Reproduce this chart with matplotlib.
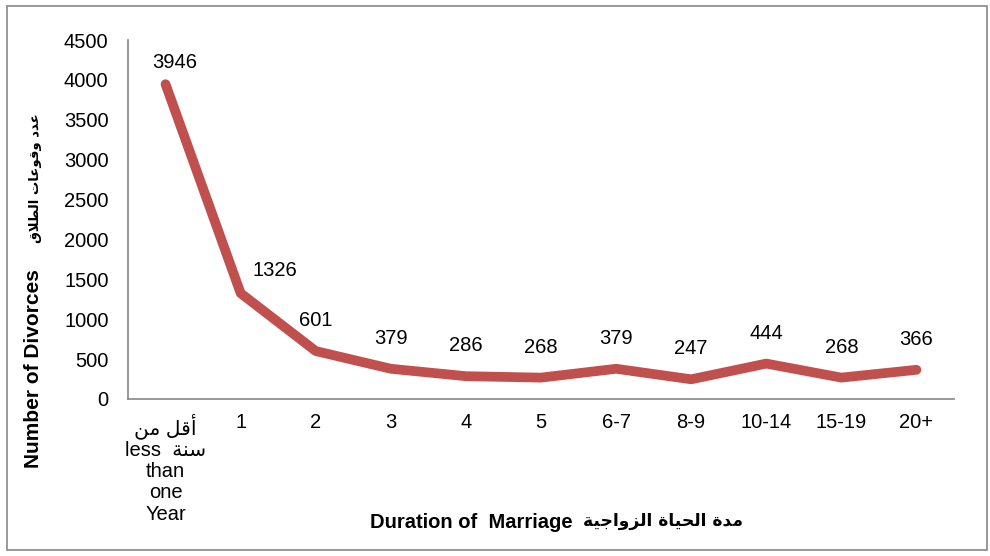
import matplotlib
matplotlib.use('Agg')
import matplotlib.pyplot as plt
import matplotlib.patches as patches

plt.rcParams['font.family'] = ['Liberation Sans', 'DejaVu Sans']

# arabic letter forms: isolated, final, initial, medial
forms = {
    'أ': ('\uFE83', '\uFE84', None, None),
    'ا': ('\uFE8D', '\uFE8E', None, None),
    'ب': ('\uFE8F', '\uFE90', '\uFE91', '\uFE92'),
    'ة': ('\uFE93', '\uFE94', None, None),
    'ت': ('\uFE95', '\uFE96', '\uFE97', '\uFE98'),
    'ج': ('\uFE9D', '\uFE9E', '\uFE9F', '\uFEA0'),
    'ح': ('\uFEA1', '\uFEA2', '\uFEA3', '\uFEA4'),
    'د': ('\uFEA9', '\uFEAA', None, None),
    'ز': ('\uFEAF', '\uFEB0', None, None),
    'س': ('\uFEB1', '\uFEB2', '\uFEB3', '\uFEB4'),
    'ط': ('\uFEC1', '\uFEC2', '\uFEC3', '\uFEC4'),
    'ع': ('\uFEC9', '\uFECA', '\uFECB', '\uFECC'),
    'ق': ('\uFED5', '\uFED6', '\uFED7', '\uFED8'),
    'ل': ('\uFEDD', '\uFEDE', '\uFEDF', '\uFEE0'),
    'م': ('\uFEE1', '\uFEE2', '\uFEE3', '\uFEE4'),
    'ن': ('\uFEE5', '\uFEE6', '\uFEE7', '\uFEE8'),
    'و': ('\uFEED', '\uFEEE', None, None),
    'ي': ('\uFEF1', '\uFEF2', '\uFEF3', '\uFEF4'),
}
lam_alef = {'ا': ('\uFEFB', '\uFEFC'), 'أ': ('\uFEF7', '\uFEF8')}


def shape(word):
    units = []
    i = 0
    while i < len(word):
        if word[i] == 'ل' and i + 1 < len(word) and word[i + 1] in lam_alef:
            units.append(('LA', word[i + 1]))
            i += 2
        else:
            units.append(('C', word[i]))
            i += 1
    out = []
    for k, (kind, c) in enumerate(units):
        prev_joins = (k > 0 and units[k - 1][0] == 'C' and units[k - 1][1] in forms
                      and forms[units[k - 1][1]][2] is not None)
        if kind == 'LA':
            out.append(lam_alef[c][1 if prev_joins else 0])
            continue
        f = forms.get(c)
        if f is None:
            out.append(c)
            continue
        next_ok = (k + 1 < len(units) and f[2] is not None
                   and (units[k + 1][0] == 'LA' or units[k + 1][1] in forms))
        if prev_joins and next_ok:
            out.append(f[3])
        elif prev_joins:
            out.append(f[1])
        elif next_ok:
            out.append(f[2])
        else:
            out.append(f[0])
    return ''.join(reversed(out))


def ar(text):
    return ' '.join(shape(w) for w in reversed(text.split(' ')))


# data
categories = [ar('أقل من') + '\nless  ' + ar('سنة') + '\nthan\none\nYear',
              '1', '2', '3', '4', '5', '6-7', '8-9', '10-14', '15-19', '20+']
divorces = [3946, 1326, 601, 379, 286, 268, 379, 247, 444, 268, 366]
y_ticks = [0, 500, 1000, 1500, 2000, 2500, 3000, 3500, 4000, 4500]

# label offsets in points (the first two labels were moved by hand)
default_offset = (0, 22)
moved_offsets = {0: (6.5, 15.5), 1: (25, 16)}

fig = plt.figure(figsize=(9.9, 5.56), dpi=100)
ax = fig.add_axes([128 / 990, 1 - 399 / 556, (954 - 128) / 990, (399 - 40) / 556])

x = list(range(len(divorces)))
ax.plot(x, divorces, color='#C0504D', linewidth=7, solid_capstyle='round',
        solid_joinstyle='round')
for xi, v in zip(x, divorces):
    ax.annotate(str(v), (xi, v), xytext=moved_offsets.get(xi, default_offset),
                textcoords='offset points', ha='center', va='center', fontsize=14.5)

ax.set_xlim(-0.5, len(divorces) - 0.5)
ax.set_ylim(0, 4500)
ax.set_yticks(y_ticks)
ax.set_yticklabels([str(t) for t in y_ticks])
ax.set_xticks(x)
ax.set_xticklabels(categories, linespacing=1.15)
ax.tick_params(axis='y', length=0, pad=14, labelsize=14.5)
ax.tick_params(axis='x', length=0, pad=10, labelsize=14.5)
for s in ['top', 'right']:
    ax.spines[s].set_visible(False)
for s in ['left', 'bottom']:
    ax.spines[s].set_color('#868686')
    ax.spines[s].set_linewidth(1.2)

# y axis title: english + arabic
fig.text(34 / 990, 1 - 468 / 556, 'Number of Divorces', rotation=90,
         ha='center', va='bottom', fontsize=15, fontweight='bold')
fig.text(35 / 990, 1 - 113 / 556, ar('عدد وقوعات الطلاق'), rotation=90,
         ha='center', va='top', fontsize=9.5, fontweight='bold', family='DejaVu Sans')
# x axis title: english + arabic
fig.text(573 / 990, 1 - 522 / 556, 'Duration of  Marriage',
         ha='right', va='center', fontsize=14.5, fontweight='bold')
fig.text(583 / 990, 1 - 521 / 556, ar('مدة الحياة الزواجية'),
         ha='left', va='center', fontsize=12.3, fontweight='bold', family='DejaVu Sans')

fig.patches.append(patches.Rectangle((7 / 990, 6 / 556), 980 / 990, 544 / 556,
                                     transform=fig.transFigure, fill=False,
                                     edgecolor='#888888', linewidth=1.2))

plt.savefig('out.png', dpi=100)
plt.close()
